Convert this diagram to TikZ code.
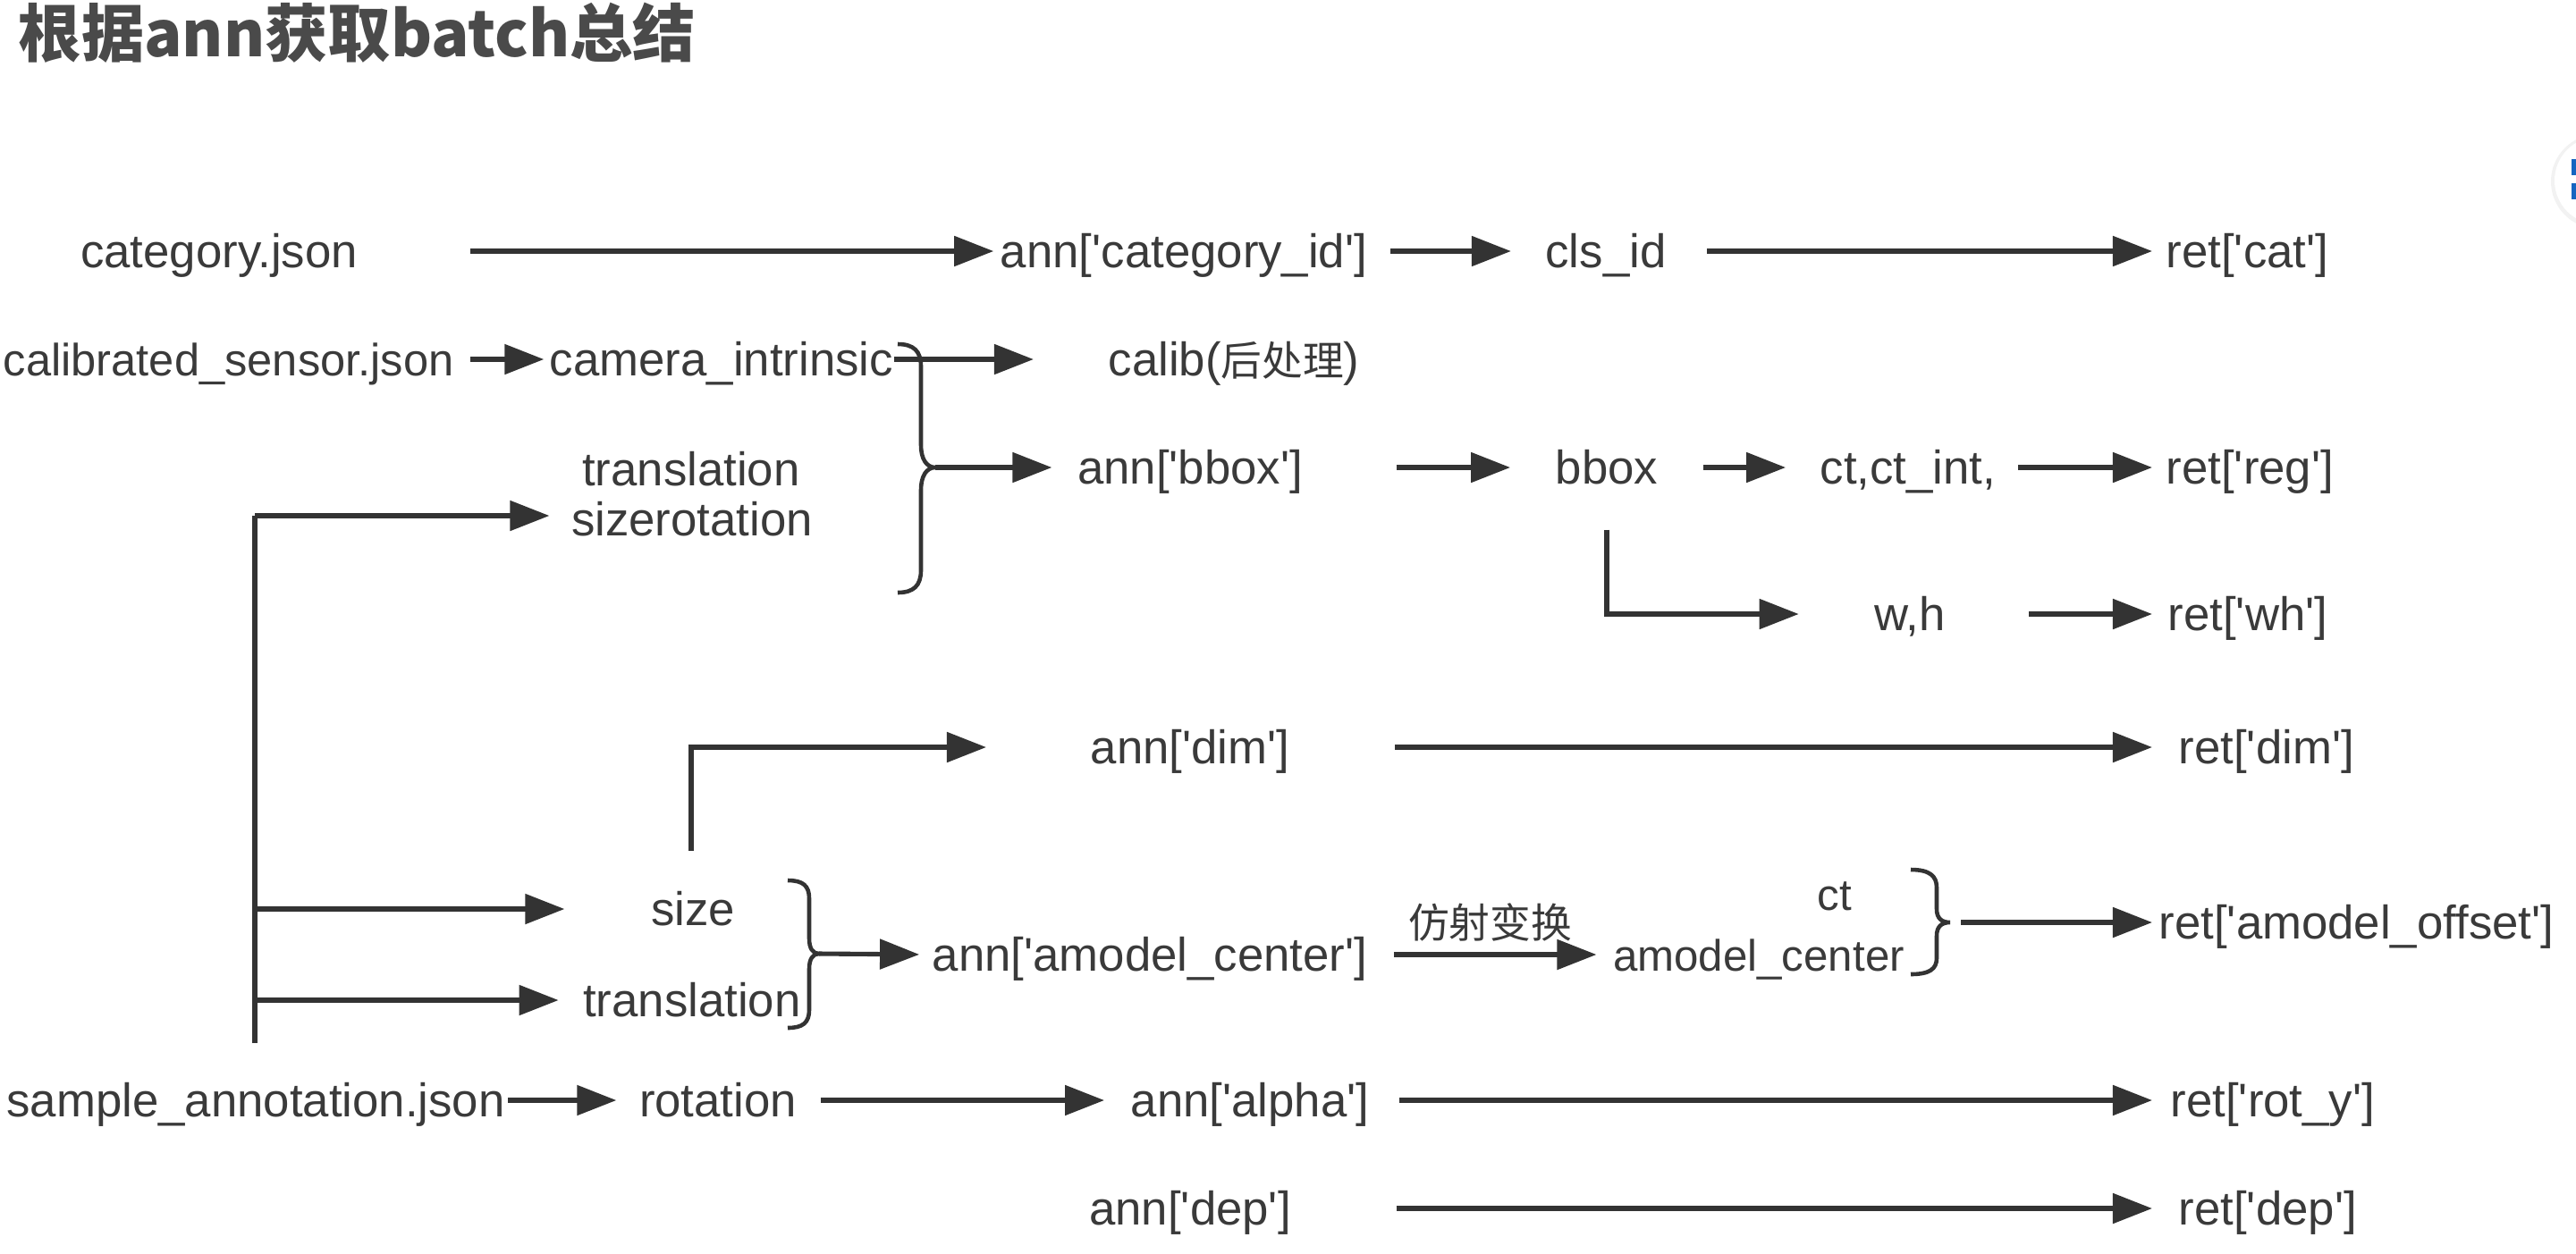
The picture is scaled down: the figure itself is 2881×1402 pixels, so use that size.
\documentclass[tikz,border=0pt]{standalone}
\usepackage{fontspec}
\setmainfont{Liberation Sans}
\newfontfamily\cjk{Noto Sans CJK SC}
\usetikzlibrary{arrows.meta}
\definecolor{ink}{HTML}{333333}
\definecolor{txt}{HTML}{3A3A3A}
\definecolor{ttl}{HTML}{4A4A4A}
\definecolor{uiblue}{HTML}{1565C0}
\newcommand\sq{\textquotesingle}
\newcommand\cj[1]{{\cjk\fontsize{13pt}{15pt}\selectfont #1}}
\begin{document}
\begin{tikzpicture}[x=0.01cm,y=-0.01cm,
  lbl/.style={anchor=mid, inner sep=0pt, text=txt, font=\fontsize{15pt}{18pt}\selectfont,
    execute at begin node={\lower2.6pt\hbox\bgroup}, execute at end node={\egroup}},
  retl/.style={lbl, anchor=mid west},
  arr/.style={draw=ink, line width=1.45pt, -{Triangle[length=0.44cm,width=0.33cm]}},
  ln/.style={draw=ink, line width=1.45pt},
  bracestyle/.style={draw=ink, line width=1.3pt}]
\useasboundingbox (0,0) rectangle (2881,1402);

% UI fragment at right edge
\fill[gray!10] (2906,203) circle (0.53cm);
\fill[white] (2906,202) circle (0.49cm);
\fill[uiblue] (2876,178) rectangle (2881,196);
\fill[uiblue] (2876,205) rectangle (2881,223);

% title
\node[anchor=west, inner sep=0pt, text=ttl, font=\cjk\bfseries\fontsize{20pt}{22pt}\selectfont] (title) at (20,37) {根据ann获取batch总结};

% row 1
\node[lbl] (catjson) at (245,281) {category.json};
\node[lbl] (annc) at (1324,281) {ann[\sq category\_id\sq]};
\node[lbl] (clsid) at (1796,281) {cls\_id};
\node[retl] (retcat) at (2422,281) {ret[\sq cat\sq]};
\draw[arr, shorten <=1.25cm, shorten >=0.07cm] (catjson.mid east) -- (annc.mid west);
\draw[arr, shorten <=0.25cm, shorten >=0.38cm] (annc.mid east) -- (clsid.mid west);
\draw[arr, shorten <=0.45cm, shorten >=0.15cm] (clsid.mid east) -- (retcat.mid west);

% row 2
\node[lbl, anchor=mid west, font=\fontsize{14.4pt}{17pt}\selectfont] (calib) at (3,402) {calibrated\_sensor.json};
\node[lbl] (camint) at (807,402) {camera\_intrinsic};
\node[lbl] (calibpp) at (1380,402) {calib(\cj{后处理})};
\draw[arr, shorten <=0.18cm, shorten >=0.06cm] (calib.mid east) -- (camint.mid west);
\draw[arr, shorten >=0.83cm] (camint.mid east) -- (calibpp.mid west);

% translation / sizerotation
\node[lbl] (trl) at (773,525) {translation};
\node[lbl] (szr) at (774,581) {sizerotation};

% big brace
\draw[bracestyle] (1004,385) .. controls (1022,385) and (1030,393) .. (1030,410) -- (1030,498)
  .. controls (1030,513) and (1036,523) .. (1046,523)
  .. controls (1036,523) and (1030,533) .. (1030,548) -- (1030,638)
  .. controls (1030,655) and (1022,663) .. (1004,663);
\coordinate (b1) at (1046,523);

% row bbox
\node[lbl] (annbbox) at (1331,523) {ann[\sq bbox\sq]};
\node[lbl] (bbox) at (1797,523) {bbox};
\node[lbl] (ctint) at (2134,523) {ct,ct\_int,};
\node[retl] (retreg) at (2422,523) {ret[\sq reg\sq]};
\draw[arr, shorten >=0.28cm] (b1) -- (annbbox.mid west);
\draw[arr, shorten <=1.04cm, shorten >=0.50cm] (annbbox.mid east) -- (bbox.mid west);
\draw[arr, shorten <=0.50cm, shorten >=0.38cm] (bbox.mid east) -- (ctint.mid west);
\draw[arr, shorten <=0.24cm, shorten >=0.15cm] (ctint.mid east) -- (retreg.mid west);

% w,h
\node[lbl] (wh) at (2136,687) {w,h};
\node[retl] (retwh) at (2424,687) {ret[\sq wh\sq]};
\draw[arr, shorten >=0.84cm] ([yshift=-0.50cm]bbox.south) |- (wh.mid west);
\draw[arr, shorten <=0.93cm, shorten >=0.17cm] (wh.mid east) -- (retwh.mid west);

% dim
\node[lbl] (anndim) at (1331,836) {ann[\sq dim\sq]};
\node[retl] (retdim) at (2436,836) {ret[\sq dim\sq]};
\draw[arr, shorten <=1.17cm, shorten >=0.29cm] (anndim.mid east) -- (retdim.mid west);

% size / translation
\node[lbl] (size) at (775,1017) {size};
\node[lbl] (trl2) at (774,1119) {translation};
\coordinate (dimstart) at (773,952);
\draw[arr, shorten >=1.16cm] (dimstart) |- (anndim.mid west);

% left vertical bus
\coordinate (vtop) at (285,577);
\coordinate (vbot) at (285,1167);
\draw[ln] (vbot) -- (vtop);
\draw[arr, shorten >=0.24cm] (vtop) -- (vtop -| szr.west);
\draw[arr, shorten >=0.96cm] (vbot |- size.mid) -- (size.mid west);
\draw[arr, shorten >=0.27cm] (vbot |- trl2.mid) -- (trl2.mid west);

% brace 2
\draw[bracestyle] (881,985) .. controls (898,985) and (905,991) .. (905,1005) -- (905,1050)
  .. controls (905,1061) and (909,1067) .. (916,1067)
  .. controls (909,1067) and (905,1073) .. (905,1084) -- (905,1130)
  .. controls (905,1144) and (898,1150) .. (881,1150);
\coordinate (b2) at (916,1067);

\node[lbl] (annamc) at (1286,1068) {ann[\sq amodel\_center\sq]};
\draw[arr, shorten >=0.14cm] (b2) -- (annamc.mid west);

\node[lbl, font=\fontsize{14pt}{17pt}\selectfont] (ct) at (2052,1000) {ct};
\node[lbl, font=\fontsize{14pt}{17pt}\selectfont] (amc) at (1967,1068) {amodel\_center};
\draw[arr, shorten <=0.29cm, shorten >=0.18cm] (annamc.mid east) -- node[above=0.12cm, inner sep=0pt, text=txt] (affine) {\cj{仿射变换}} (amc.mid west);

% brace 3
\draw[bracestyle] (2137,973) .. controls (2158,973) and (2166,980) .. (2166,993) -- (2166,1017)
  .. controls (2166,1027) and (2171,1032) .. (2181,1032)
  .. controls (2171,1032) and (2166,1037) .. (2166,1047) -- (2166,1072)
  .. controls (2166,1084) and (2158,1090) .. (2137,1090);
\coordinate (b3) at (2181,1032);
\node[retl] (retoff) at (2414,1032) {ret[\sq amodel\_offset\sq]};
\draw[arr, shorten <=0.12cm, shorten >=0.07cm] (b3) -- (retoff.mid west);

% rotation row
\node[lbl] (sample) at (286,1231) {sample\_annotation.json};
\node[lbl] (rot) at (803,1231) {rotation};
\node[lbl] (annalpha) at (1398,1231) {ann[\sq alpha\sq]};
\node[retl] (retroty) at (2427,1231) {ret[\sq rot\_y\sq]};
\draw[arr, shorten <=0.03cm, shorten >=0.25cm] (sample.mid east) -- (rot.mid west);
\draw[arr, shorten <=0.26cm, shorten >=0.29cm] (rot.mid east) -- (annalpha.mid west);
\draw[arr, shorten <=0.33cm, shorten >=0.20cm] (annalpha.mid east) -- (retroty.mid west);

% dep row
\node[lbl] (anndep) at (1331,1352) {ann[\sq dep\sq]};
\node[retl] (retdep) at (2436,1352) {ret[\sq dep\sq]};
\draw[arr, shorten <=1.17cm, shorten >=0.29cm] (anndep.mid east) -- (retdep.mid west);
\end{tikzpicture}
\end{document}
